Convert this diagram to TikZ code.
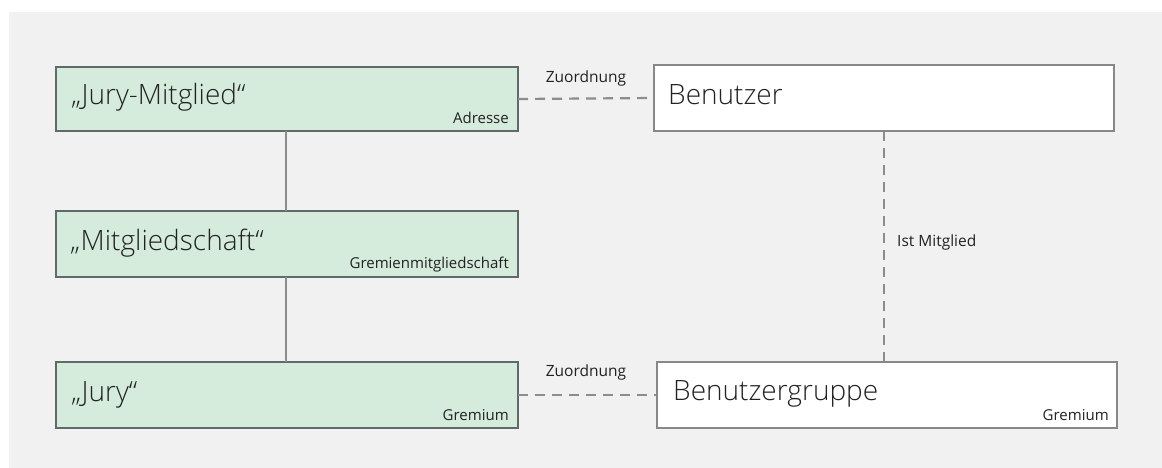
\documentclass[tikz,border=0pt]{standalone}
\usepackage{fontspec}
\setmainfont{Open Sans}
\newfontfamily\lightfont{Open Sans Light}
\definecolor{bgc}{HTML}{F1F1F1}
\definecolor{grfill}{HTML}{D5EBDC}
\definecolor{grline}{HTML}{5F6B68}
\definecolor{wline}{HTML}{888888}
\definecolor{conn}{HTML}{8C8C8C}
\definecolor{txt}{HTML}{222222}
\tikzset{
  greenbox/.style={draw=grline, fill=grfill, line width=2pt, rectangle, inner sep=0pt, outer sep=0pt, anchor=north west},
  whitebox/.style={draw=wline, fill=white, line width=2pt, rectangle, inner sep=0pt, outer sep=0pt, anchor=north west},
  maintext/.style={font=\lightfont\fontsize{28}{32}\selectfont, text=txt, inner sep=0pt, anchor=base west},
  smalltext/.style={font=\fontsize{15}{18}\selectfont, text=txt, inner sep=0pt, anchor=base east},
  conntext/.style={font=\fontsize{15.5}{18}\selectfont, text=txt, inner sep=0pt},
  solidconn/.style={draw=conn, line width=2pt},
  dashconn/.style={draw=conn, line width=2.2pt, dash pattern=on 10pt off 7pt}
}
\begin{document}
\begin{tikzpicture}[x=1pt,y=-1pt]
\useasboundingbox (0,0) rectangle (1162,468);
\fill[white] (0,0) rectangle (1162,468);
\fill[bgc] (9,12) rectangle (1162,468);

\node[greenbox, minimum width=462pt, minimum height=64pt] (jm) at (56,67) {};
\node[greenbox, minimum width=462pt, minimum height=66pt] (ms) at (56,211) {};
\node[greenbox, minimum width=462pt, minimum height=66pt] (jy) at (56,362) {};
\node[whitebox, minimum width=460pt, minimum height=66pt] (bn) at (654,65) {};
\node[whitebox, minimum width=460pt, minimum height=66pt] (bg) at (657,362) {};

\node[maintext] (jmt) at (71,105) {„Jury-Mitglied“};
\node[smalltext] (jms) at (509,124) {Adresse};
\node[maintext] (mst) at (70,250) {„Mitgliedschaft“};
\node[smalltext] (mss) at (509,268) {Gremienmitgliedschaft};
\node[maintext] (jyt) at (71,401) {„Jury“};
\node[smalltext] (jys) at (509,420) {Gremium};
\node[maintext] (bnt) at (668,105) {Benutzer};
\node[maintext] (bgt) at (673,400) {Benutzergruppe};
\node[smalltext] (bgs) at (1109,420) {Gremium};

\coordinate (c1) at (286,131);
\coordinate (c2) at (286,211);
\coordinate (c3) at (286,277);
\coordinate (c4) at (286,362);
\draw[solidconn] (c1) -- (c2);
\draw[solidconn] (c3) -- (c4);

\draw[dashconn] (jm.east) -- (bn.west);
\node[conntext] (z1) at (586,78) {Zuordnung};
\draw[dashconn] (jy.east) -- (bg.west);
\node[conntext] (z2) at (586,372) {Zuordnung};
\coordinate (d1) at (884,131);
\coordinate (d2) at (884,362);
\draw[dashconn] (d1) -- (d2);
\node[conntext, anchor=west] (im) at (897,242) {Ist Mitglied};
\end{tikzpicture}
\end{document}
